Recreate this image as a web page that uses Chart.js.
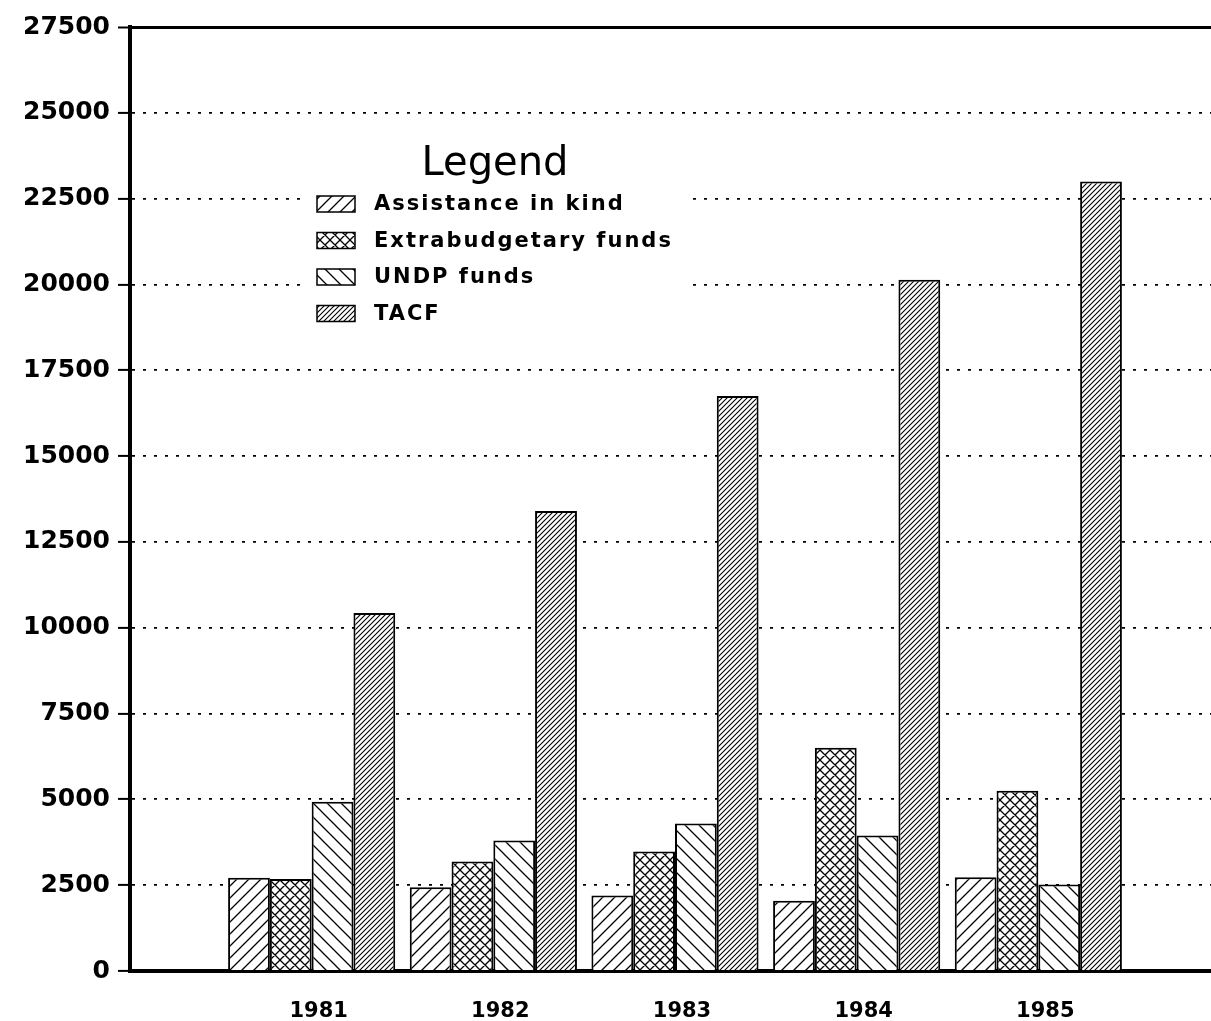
<!DOCTYPE html>
<html>
<head>
<meta charset="utf-8">
<script src="https://cdn.jsdelivr.net/npm/chart.js@4.4.0/dist/chart.umd.min.js"></script>
<style>
html, body { margin: 0; padding: 0; background: #fff; overflow: hidden; }
</style>
</head>
<body>
<canvas id="funds" width="1248" height="1021"></canvas>
<script>
var years = ['1981', '1982', '1983', '1984', '1985'];
var assistanceInKind = [2720, 2440, 2200, 2050, 2730];
var extrabudgetaryFunds = [2680, 3190, 3480, 6500, 5250];
var undpFunds = [4930, 3800, 4300, 3950, 2520];
var tacf = [10430, 13400, 16750, 20140, 23000];
var yTicks = [0, 2500, 5000, 7500, 10000, 12500, 15000, 17500, 20000, 22500, 25000, 27500];

// hatch fill: dirs '/' and/or '\'
function makeHatch(size, dirs, width) {
    var c = document.createElement('canvas');
    c.width = size;
    c.height = size;
    var g = c.getContext('2d');
    g.fillStyle = '#fff';
    g.fillRect(0, 0, size, size);
    g.strokeStyle = '#000';
    g.lineWidth = width;
    g.beginPath();
    if (dirs.indexOf('/') >= 0) {
        g.moveTo(-1, size + 1); g.lineTo(size + 1, -1);
        g.moveTo(-2, 2); g.lineTo(2, -2);
        g.moveTo(size - 2, size + 2); g.lineTo(size + 2, size - 2);
    }
    if (dirs.indexOf('\\') >= 0) {
        g.moveTo(-1, -1); g.lineTo(size + 1, size + 1);
        g.moveTo(size - 2, -2); g.lineTo(size + 2, 2);
        g.moveTo(-2, size - 2); g.lineTo(2, size + 2);
    }
    g.stroke();
    return g.createPattern(c, 'repeat');
}

// pad one empty slot each side so the axis starts left of 1981
function pad(arr) {
    return [null].concat(arr).concat([null]);
}

var insideLegend = {
    id: 'insideLegend',
    afterDraw: function (chart) {
        var ctx = chart.ctx;
        var a = chart.chartArea;
        var x = a.left + 173, y = a.top + 103;
        ctx.save();
        ctx.fillStyle = '#fff';
        ctx.fillRect(x, y, 387, 205);
        ctx.fillStyle = '#000';
        ctx.textBaseline = 'middle';
        ctx.textAlign = 'center';
        ctx.font = '40px "DejaVu Sans"';
        ctx.fillText('Legend', x + 192, y + 35);
        ctx.textAlign = 'left';
        ctx.font = 'bold 21px "DejaVu Sans"';
        ctx.letterSpacing = '2px';
        chart.data.datasets.forEach(function (ds, i) {
            var ry = y + 74 + i * 36.5;
            ctx.fillStyle = ds.backgroundColor;
            ctx.fillRect(x + 14, ry - 8, 38, 16);
            ctx.strokeStyle = '#000';
            ctx.lineWidth = 1.5;
            ctx.strokeRect(x + 14, ry - 8, 38, 16);
            ctx.fillStyle = '#000';
            ctx.fillText(ds.label, x + 71, ry + 1);
        });
        ctx.restore();
    }
};

var chart = new Chart(document.getElementById('funds'), {
    type: 'bar',
    data: {
        labels: [''].concat(years).concat(['']),
        datasets: [
            { label: 'Assistance in kind', data: pad(assistanceInKind), backgroundColor: makeHatch(12, '/', 1.3) },
            { label: 'Extrabudgetary funds', data: pad(extrabudgetaryFunds), backgroundColor: makeHatch(10, '/\\', 1.3) },
            { label: 'UNDP funds', data: pad(undpFunds), backgroundColor: makeHatch(14, '\\', 1.3) },
            { label: 'TACF', data: pad(tacf), backgroundColor: makeHatch(5, '/', 1.1) }
        ].map(function (d) {
            d.borderColor = '#000';
            d.borderWidth = 2;
            d.borderSkipped = 'bottom';
            d.barPercentage = 1;
            d.categoryPercentage = 0.92;
            return d;
        })
    },
    options: {
        responsive: false,
        animation: false,
        devicePixelRatio: 1,
        layout: { padding: { top: 27, right: 5, left: 0, bottom: 0 } },
        plugins: {
            legend: { display: false },
            tooltip: { enabled: false }
        },
        scales: {
            x: {
                offset: false,
                grid: { display: false, drawTicks: false },
                border: { display: true, width: 4, color: '#000' },
                ticks: {
                    color: '#000',
                    padding: 28,
                    labelOffset: 7,
                    maxRotation: 0,
                    autoSkip: false,
                    font: { family: 'DejaVu Sans', size: 21, weight: 'bold' }
                },
                afterFit: function (scale) { scale.height = 50; }
            },
            y: {
                min: 0,
                max: 27500,
                afterBuildTicks: function (scale) {
                    scale.ticks = yTicks.map(function (v) { return { value: v }; });
                },
                grid: {
                    color: '#000',
                    lineWidth: function (c) { return c.tick && c.tick.value === 27500 ? 3 : 1.8; },
                    tickLength: 12,
                    tickWidth: 2,
                    tickBorderDash: []
                },
                border: {
                    display: true,
                    width: 4,
                    color: '#000',
                    dash: function (c) { return c.tick && c.tick.value === 27500 ? [] : [3, 8]; }
                },
                ticks: {
                    color: '#000',
                    padding: 8,
                    font: { family: 'DejaVu Sans', size: 25, weight: 'bold' },
                    callback: function (v) { return String(v); }
                },
                afterFit: function (scale) { scale.width = 130; }
            }
        }
    },
    plugins: [insideLegend]
});
</script>
</body>
</html>
